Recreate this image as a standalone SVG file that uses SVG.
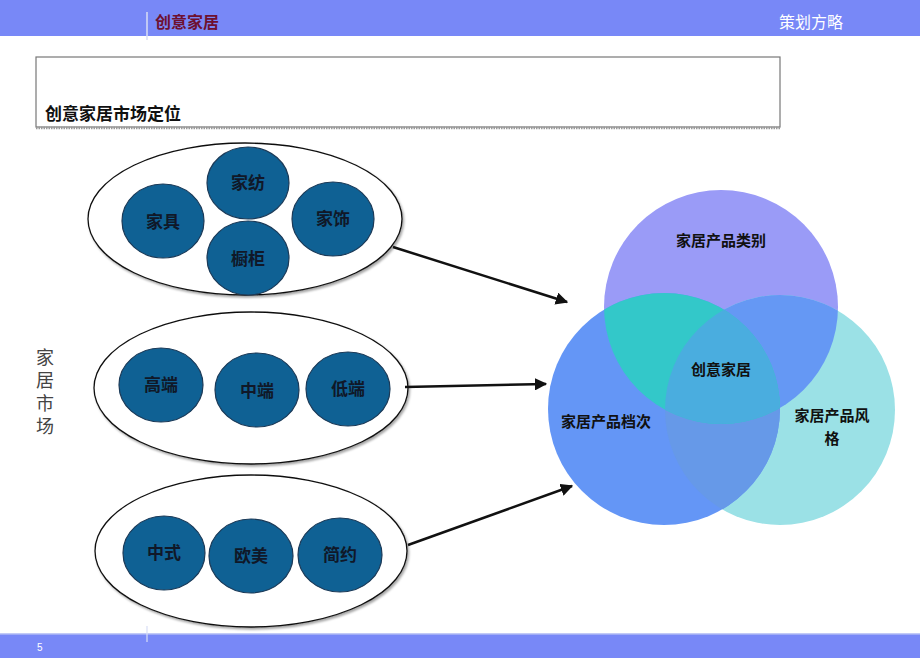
<svg xmlns="http://www.w3.org/2000/svg" width="920" height="658" viewBox="0 0 920 658">
<style>
.cjk{font-family:"Liberation Sans","Noto Sans CJK SC",sans-serif}
.oval{fill:#fff;stroke:#111;stroke-width:1.3}
.dot{fill:#0F6194;stroke:#1B3A58;stroke-width:1.2}
.dl{font-size:17px;font-weight:600;fill:#101828;text-anchor:middle;dominant-baseline:central}
.vl{font-size:15px;font-weight:600;fill:#111;text-anchor:middle;dominant-baseline:central}
.conn{stroke:#111;stroke-width:2.5;fill:none;marker-end:url(#ah)}
</style>
<defs>
<marker id="ah" viewBox="0 0 10 10" refX="9" refY="5" markerWidth="5" markerHeight="5" orient="auto" markerUnits="strokeWidth">
<path d="M0,0 L10,5 L0,10 Z" fill="#111"/>
</marker>
<filter id="sh" x="-10%" y="-10%" width="120%" height="125%">
<feDropShadow dx="1.5" dy="2" stdDeviation="1.2" flood-color="#000" flood-opacity="0.35"/>
</filter>
<clipPath id="cTop"><circle cx="721" cy="307" r="117"/></clipPath>
<clipPath id="cLeft"><circle cx="664" cy="409" r="116"/></clipPath>
<clipPath id="cRight"><circle cx="780" cy="410" r="115"/></clipPath>
</defs>
<!-- header/footer -->
<rect x="0" y="0" width="920" height="36" fill="#7888F7"/>
<line x1="147" y1="12" x2="147" y2="40" stroke="#D8DEF5" stroke-width="1.5"/>
<text x="155" y="28" class="cjk" font-size="16" font-weight="600" fill="#6E1030">创意家居</text>
<text x="843" y="28" class="cjk" font-size="16" fill="#fff" text-anchor="end">策划方略</text>
<rect x="0" y="634" width="920" height="24" fill="#7888F7"/>
<line x1="0" y1="634" x2="920" y2="634" stroke="#AEB8F5" stroke-width="1.5"/>
<line x1="147" y1="626" x2="147" y2="642" stroke="#D8DEF5" stroke-width="1.2"/>
<text x="37" y="651" font-family="Liberation Sans,sans-serif" font-size="10" fill="#fff">5</text>
<!-- title box -->
<g id="title">
<rect x="36" y="57" width="744" height="70" fill="#fff" stroke="#777" stroke-width="1.2"/>
<line x1="36" y1="128" x2="780" y2="128" stroke="#999" stroke-width="2.5" stroke-dasharray="1.5 1"/>
<text x="45" y="120" class="cjk" font-size="17" font-weight="600" fill="#111">创意家居市场定位</text>
</g>
<!-- vertical label -->
<g id="market-label" class="cjk" font-size="18" fill="#444" text-anchor="middle">
<text x="45" y="364">家</text>
<text x="45" y="387">居</text>
<text x="45" y="410">市</text>
<text x="45" y="433">场</text>
</g>
<!-- group 1 -->
<g id="group-category">
<ellipse class="oval" cx="245" cy="219" rx="157" ry="76" filter="url(#sh)"/>
<ellipse class="dot" cx="163" cy="221" rx="41" ry="37"/>
<ellipse class="dot" cx="248" cy="183" rx="41" ry="36"/>
<ellipse class="dot" cx="248" cy="258" rx="41" ry="37"/>
<ellipse class="dot" cx="333" cy="219" rx="41" ry="37"/>
<text class="cjk dl" x="163" y="222">家具</text>
<text class="cjk dl" x="248" y="183">家纺</text>
<text class="cjk dl" x="248" y="259">橱柜</text>
<text class="cjk dl" x="333" y="219">家饰</text>
</g>
<!-- group 2 -->
<g id="group-grade">
<ellipse class="oval" cx="251" cy="388" rx="157" ry="76" filter="url(#sh)"/>
<ellipse class="dot" cx="161" cy="385" rx="42" ry="37"/>
<ellipse class="dot" cx="257" cy="390" rx="42" ry="37"/>
<ellipse class="dot" cx="348" cy="389" rx="42" ry="37"/>
<text class="cjk dl" x="161" y="385">高端</text>
<text class="cjk dl" x="257" y="391">中端</text>
<text class="cjk dl" x="348" y="389">低端</text>
</g>
<!-- group 3 -->
<g id="group-style">
<ellipse class="oval" cx="251" cy="551" rx="156" ry="76" filter="url(#sh)"/>
<ellipse class="dot" cx="164" cy="553" rx="41" ry="37"/>
<ellipse class="dot" cx="251" cy="556" rx="42" ry="37"/>
<ellipse class="dot" cx="340" cy="555" rx="42" ry="37"/>
<text class="cjk dl" x="164" y="553">中式</text>
<text class="cjk dl" x="251" y="556">欧美</text>
<text class="cjk dl" x="340" y="555">简约</text>
</g>
<!-- connectors -->
<g id="connectors">
<line class="conn" x1="393" y1="247" x2="567" y2="302"/>
<line class="conn" x1="405" y1="387" x2="546" y2="384"/>
<line class="conn" x1="408" y1="545" x2="572" y2="486"/>
</g>
<!-- venn -->
<g id="venn">
<circle cx="721" cy="307" r="117" fill="#9A9BF7"/>
<circle cx="780" cy="410" r="115" fill="#9BE1E6"/>
<circle cx="664" cy="409" r="116" fill="#6496F6"/>
<g clip-path="url(#cTop)"><circle cx="780" cy="410" r="115" fill="#6598F4"/></g>
<g clip-path="url(#cLeft)"><circle cx="780" cy="410" r="115" fill="#6699E8"/></g>
<g clip-path="url(#cTop)"><circle cx="664" cy="409" r="116" fill="#33C8C9"/></g>
<g clip-path="url(#cTop)"><g clip-path="url(#cLeft)"><circle cx="780" cy="410" r="115" fill="#4AADDF"/></g></g>
<text class="cjk vl" x="721" y="240">家居产品类别</text>
<text class="cjk vl" x="721" y="369" fill="#8A1A2E">创意家居</text>
<text class="cjk vl" x="606" y="421">家居产品档次</text>
<text class="cjk vl" x="832" y="415">家居产品风</text>
<text class="cjk vl" x="832" y="438">格</text>
</g>
</svg>
